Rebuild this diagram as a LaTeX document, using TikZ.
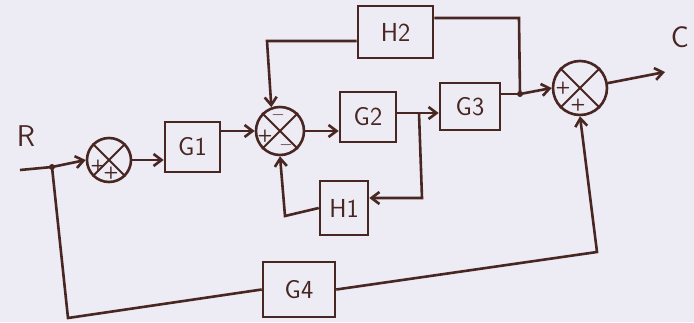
\documentclass[tikz,border=0pt]{standalone}
\usetikzlibrary{arrows.meta,calc}
\definecolor{ink}{RGB}{72,38,34}
\definecolor{paper}{RGB}{237,235,243}
\begin{document}
\begin{tikzpicture}[x=1pt,y=-1pt, line width=2.6pt, draw=ink, text=ink,
  >={Straight Barb[length=8pt,width=12pt]},
  blk/.style={draw, rectangle, inner sep=0pt, font=\sffamily\fontsize{26}{28}\selectfont},
  sumj/.style={draw, circle, inner sep=0pt},
  sgn/.style={font=\sffamily\LARGE\bfseries, inner sep=0pt},
  lbl/.style={font=\sffamily\fontsize{30}{32}\selectfont, inner sep=0pt}]
\fill[paper] (0,0) rectangle (694,322);
\useasboundingbox (0,0) rectangle (694,322);
% blocks
\node[blk, minimum width=55pt, minimum height=50pt] (G1) at (192.5,147) {G1};
\node[blk, minimum width=56pt, minimum height=50pt] (G2) at (368,117) {G2};
\node[blk, minimum width=60pt, minimum height=47pt] (G3) at (470,106.5) {G3};
\node[blk, minimum width=75pt, minimum height=52pt] (H2) at (395.5,32) {H2};
\node[blk, minimum width=48pt, minimum height=54pt] (H1) at (344,208) {H1};
\node[blk, minimum width=72pt, minimum height=55pt] (G4) at (299,289.5) {G4};
% summing junctions
\node[sumj, minimum size=44pt] (S1) at (109,160) {};
\node[sumj, minimum size=48pt] (S2) at (280,131) {};
\node[sumj, minimum size=54pt] (S3) at (580,88) {};
\foreach \s in {S1,S2,S3}{
  \draw[line width=2pt] (\s.45) -- (\s.225);
  \draw[line width=2pt] (\s.135) -- (\s.315);
}
% signs
\node[sgn] (s1a) at ($(S1.center)+(-11,6)$) {+};
\node[sgn] (s1b) at ($(S1.center)+(2,13)$) {+};
\node[sgn] (s2a) at ($(S2.center)+(-2,-16)$) {$-$};
\node[sgn] (s2b) at ($(S2.center)+(-15,5)$) {+};
\node[sgn] (s2c) at ($(S2.center)+(6,14)$) {$-$};
\node[sgn] (s3a) at ($(S3.center)+(-17,0)$) {+};
\node[sgn] (s3b) at ($(S3.center)+(-2,17)$) {+};
% labels
\node[lbl] (R) at (26,136) {R};
\node[font=\sffamily\fontsize{30}{32}\selectfont, inner sep=0pt] (C) at (680,37) {C};
% coordinates
\coordinate (Rin) at (20,170);
\coordinate (jR) at (52,167);
\coordinate (j2) at (419,113);
\coordinate (j3) at (520,94);
\coordinate (tH2r) at (519,18);
\coordinate (tH2l) at (267,41);
\coordinate (out) at (665,72);
\coordinate (tH1r) at (422,198);
\coordinate (tH1l) at (285,216);
\coordinate (bl) at (68,318);
\coordinate (br) at (597,252);
% connectors
\draw[->] (Rin) -- (jR) -- (S1.west);
\fill[ink] (jR) circle (3pt);
\draw[->] (S1.east) -- (G1.west |- S1.east);
\draw[->] (G1.east |- S2.west) -- (S2.west);
\draw[->] (S2.east) -- (G2.west |- S2.east);
\draw (G2.east |- j2) -- (j2);
\draw[->] (j2) -- (G3.west |- j2);
\draw (G3.east |- j3) -- (j3);
\draw[->] (j3) -- (S3.west);
\fill[ink] (j3) circle (3pt);
\draw (j3) -- (tH2r) -- (H2.east |- tH2r);
\draw[->] (H2.west |- tH2l) -- (tH2l) -- (S2.110);
\draw[->] (S3.10) -- (out);
\draw[->] (j2) -- (tH1r) -- (H1.east |- tH1r);
\draw[->] (H1.west) -- (tH1l) -- (S2.south);
\draw (jR) -- (bl) -- (G4.west);
\draw[->] (G4.east) -- (br) -- (S3.south);
\end{tikzpicture}
\end{document}
